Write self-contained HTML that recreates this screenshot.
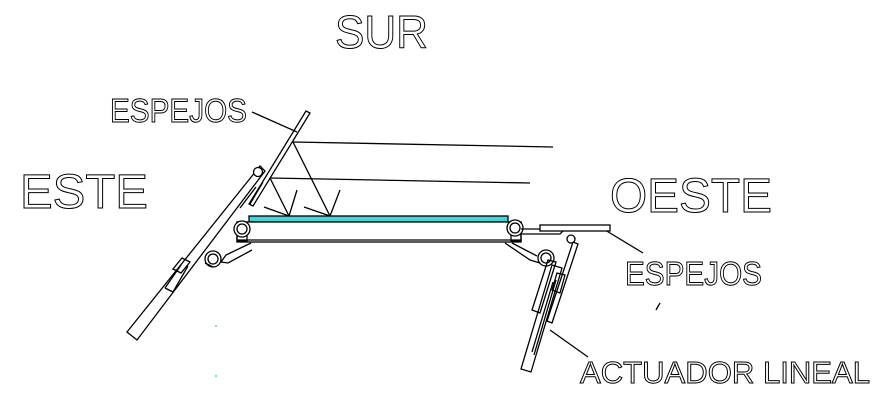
<!DOCTYPE html>
<html><head><style>
html,body{margin:0;padding:0;background:#fff;}
svg{display:block}
text{font-family:"Liberation Sans",sans-serif;fill:#fff;stroke:#000;stroke-width:1;}
</style></head><body>
<svg width="886" height="404" viewBox="0 0 886 404" xmlns="http://www.w3.org/2000/svg">
<g stroke="#000" stroke-width="1.2" fill="none">
<!-- texts -->
</g>
<text x="335" y="48" font-size="46" textLength="93" lengthAdjust="spacingAndGlyphs">SUR</text>
<text x="20" y="208" font-size="48" textLength="128" lengthAdjust="spacingAndGlyphs">ESTE</text>
<text x="610" y="212" font-size="48" textLength="162" lengthAdjust="spacingAndGlyphs">OESTE</text>
<text x="110" y="122" font-size="33" textLength="137" lengthAdjust="spacingAndGlyphs">ESPEJOS</text>
<text x="625" y="285" font-size="33" textLength="137" lengthAdjust="spacingAndGlyphs">ESPEJOS</text>
<text x="580" y="383" font-size="31" textLength="290" lengthAdjust="spacingAndGlyphs">ACTUADOR LINEAL</text>
<g stroke="#000" stroke-width="1.3" fill="none">
<!-- leaders -->
<line x1="252" y1="112" x2="297" y2="132"/>
<line x1="605" y1="230" x2="643" y2="253"/>
<line x1="550" y1="330" x2="588" y2="357"/>
<line x1="660" y1="303" x2="656" y2="310"/>
<!-- rays -->
<line x1="293" y1="142" x2="553" y2="147"/>
<line x1="270" y1="178" x2="530" y2="183"/>
<line x1="293" y1="142" x2="330" y2="216"/>
<line x1="270" y1="178" x2="289" y2="216"/>
<line x1="330" y1="216" x2="340" y2="190"/>
<line x1="330" y1="216" x2="304" y2="207"/>
<line x1="289" y1="216" x2="297" y2="190"/>
<line x1="289" y1="216" x2="264" y2="207"/>
<!-- left mirror -->
<polygon points="306,111 310,113 253,206 249,204"/>
<polygon points="260,166 265,171 137,340 127,332"/>
<line x1="256" y1="187" x2="240" y2="208"/>
<line x1="263" y1="182" x2="250" y2="204"/>
<polygon points="182,258 190,262 181,273 173,269"/>
<line x1="181" y1="265" x2="165" y2="288"/>
<line x1="188" y1="266" x2="173" y2="292"/>
<line x1="165" y1="288" x2="173" y2="292"/>
<circle cx="258" cy="172" r="4.5" fill="#fff"/>
<!-- panel -->
<rect x="249" y="216" width="259" height="6" fill="#3fd6d6"/>
<rect x="237" y="222" width="284" height="20" fill="#fff"/>
<line x1="237" y1="240" x2="521" y2="240"/>
<rect x="237" y="222" width="10" height="19"/>
<rect x="511" y="222" width="10" height="19"/>
<circle cx="242" cy="229" r="8" fill="#fff"/>
<circle cx="242" cy="229" r="5" fill="#fff"/>
<circle cx="515" cy="228" r="8" fill="#fff"/>
<circle cx="515" cy="228" r="5" fill="#fff"/>
<!-- lower links -->
<polyline points="251,243 226,255 221,262 228,263 252,250"/>
<polyline points="505,243 530,260 540,263"/>
<polyline points="512,243 537,256"/>
<circle cx="213" cy="259" r="8" fill="#fff"/>
<circle cx="213" cy="259" r="5" fill="#fff"/>
<circle cx="546" cy="258" r="8" fill="#fff"/>
<circle cx="546" cy="258" r="5" fill="#fff"/>
<line x1="205" y1="263" x2="213" y2="267"/>
<!-- right mirror -->
<polyline points="521,229 565,229 560,234 521,234"/>
<rect x="540" y="225" width="70" height="6" fill="#fff"/>
<!-- actuator -->
<polygon points="573,242 578,244 552,323 547,321"/>
<polygon points="565,275 560,293 552,290 557,273"/>
<polygon points="548,260 556,262 540,313 532,310"/>
<polygon points="552,265 562,268 531,372 521,369"/>
<line x1="556" y1="280" x2="534" y2="355"/>
<line x1="553" y1="282" x2="532" y2="352"/>
<circle cx="571" cy="239" r="4" fill="#fff"/>
</g>
<circle cx="216" cy="326" r="1" fill="#3fd6d6"/>
<circle cx="216" cy="376" r="1" fill="#3fd6d6"/>
</svg>
</body></html>
